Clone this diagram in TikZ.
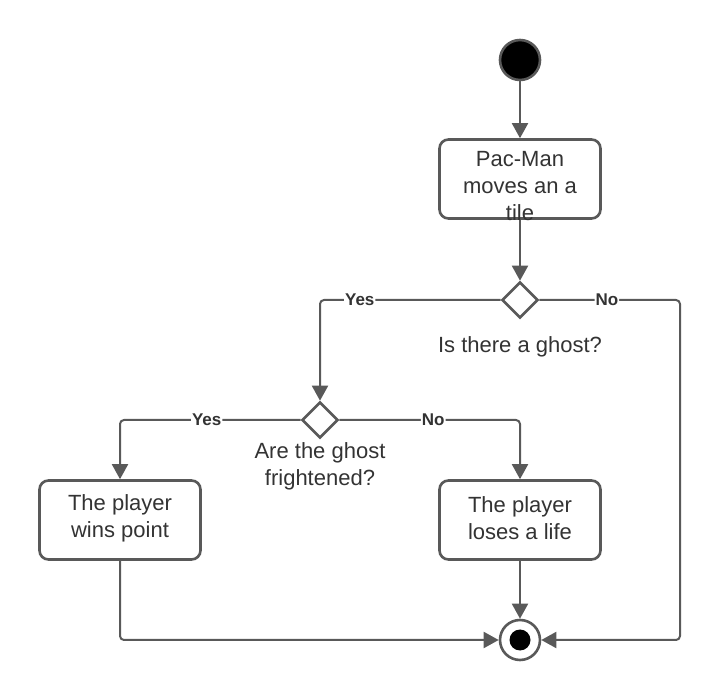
\documentclass[tikz,border=0pt]{standalone}
\usepackage{fontspec}
\setmainfont{Liberation Sans}
\usetikzlibrary{shapes.geometric,arrows.meta,positioning}
\definecolor{umlGray}{RGB}{89,89,89}
\definecolor{umlText}{RGB}{51,51,51}

\begin{document}
\begin{tikzpicture}[x=1pt,y=-1pt,
    actbox/.style={draw=umlGray,line width=2.6pt,rounded corners=9pt,fill=white,
        minimum width=161pt,minimum height=79pt,inner sep=0pt},
    acttext/.style={text=umlText,align=center,font=\fontsize{22}{27}\selectfont},
    decision/.style={diamond,draw=umlGray,line width=2.6pt,fill=white,
        minimum width=36pt,minimum height=36pt,inner sep=0pt},
    flow/.style={draw=umlGray,line width=2pt,rounded corners=4pt,
        -{Triangle[width=16pt,length=15pt]}},
    guard/.style={fill=white,text=umlText,inner sep=1pt,
        font=\fontsize{17}{19}\selectfont\bfseries}
]

\useasboundingbox (0,0) rectangle (721,700);

\coordinate (cStartPt) at (520,60);
\coordinate (cMovePt) at (520,179);
\coordinate (cGhostPt) at (520,300);
\coordinate (cScaredPt) at (320,420);
\coordinate (cWinPt) at (120,520);
\coordinate (cLosePt) at (520,520);
\coordinate (cEndPt) at (520,640);
\coordinate (cNoCorner) at (680,640);

\node[circle,draw=umlGray,line width=2.6pt,fill=black,minimum size=40pt,inner sep=0pt]
    (start) at (cStartPt) {};
\node[circle,draw=umlGray,line width=2.6pt,fill=white,minimum size=40pt,inner sep=0pt,
    path picture={\fill[black] (path picture bounding box.center) circle (10.5pt);}]
    (end) at (cEndPt) {};

% action boxes, text placed on top
\node[actbox] (move) at (cMovePt) {};
\node[acttext] (moveText) at ([yshift=-7pt]move.center) {Pac-Man\\moves an a\\tile};
\node[actbox] (win) at (cWinPt) {};
\node[acttext] (winText) at ([yshift=2pt]win.center) {The player\\wins point};
\node[actbox] (lose) at (cLosePt) {};
\node[acttext] (loseText) at ([yshift=2pt]lose.center) {The player\\loses a life};

\node[decision] (ghost) at (cGhostPt) {};
\node[decision] (scared) at (cScaredPt) {};
\node[acttext] (ghostQ) at (520,347) {Is there a ghost?};
\node[acttext] (scaredQ) at (320,466) {Are the ghost\\frightened?};

\draw[flow] (start) -- (move);
\draw[flow] (move) -- (ghost);
\draw[flow] (ghost.west) -| node[guard,pos=0.39]{Yes} (scared.north);
\draw[flow] (ghost.east) -| node[guard,pos=0.24]{No} (cNoCorner) -- (end.east);
\draw[flow] (scared.west) -| node[guard,pos=0.26]{Yes} (win.north);
\draw[flow] (scared.east) -| node[guard,pos=0.26]{No} (lose.north);
\draw[flow] (win.south) |- (end.west);
\draw[flow] (lose) -- (end);

\end{tikzpicture}
\end{document}
